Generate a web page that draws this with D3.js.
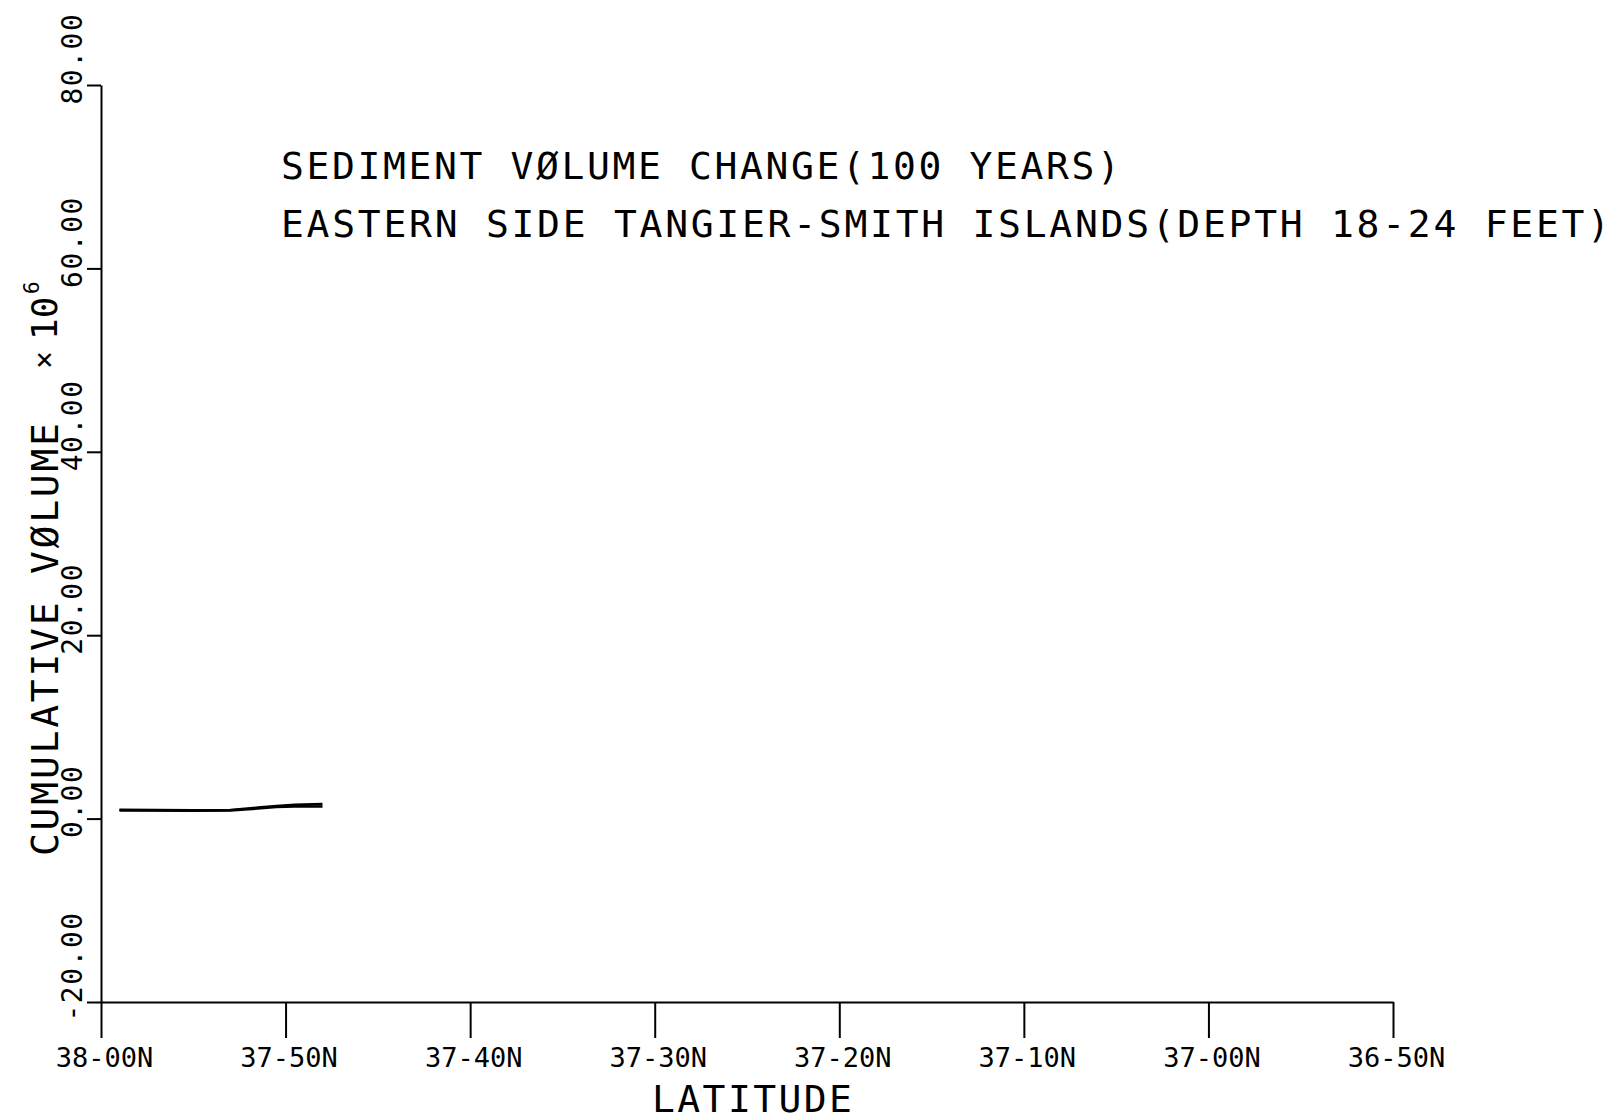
<!DOCTYPE html>
<html>
<head>
<meta charset="utf-8">
<script src="https://cdn.jsdelivr.net/npm/d3@7"></script>
<style>
  html, body { margin: 0; padding: 0; background: #fff; }
  svg { display: block; }
  text { font-family: "DejaVu Sans Mono", "Liberation Mono", monospace; fill: #000; }
</style>
</head>
<body>
<svg id="chart" width="1618" height="1120"></svg>
<script>
// Latitude stations (DD-MM.M, north) and cumulative volume (x10^6) for the two traces
const latitude = ["37-59.0", "37-57.0", "37-55.0", "37-53.0", "37-51.5", "37-50.5", "37-49.5", "37-48.0"];
const volumeUpper = [0.96, 0.92, 0.90, 0.94, 1.20, 1.38, 1.50, 1.58];
const volumeLower = [0.90, 0.88, 0.85, 0.88, 1.10, 1.26, 1.32, 1.32];

const xTickLabels = ["38-00N", "37-50N", "37-40N", "37-30N", "37-20N", "37-10N", "37-00N", "36-50N"];
const yTickLabels = ["-20.00", "0.00", "20.00", "40.00", "60.00", "80.00"];

const titleLines = [
  "SEDIMENT VØLUME CHANGE(100 YEARS)",
  "EASTERN SIDE TANGIER-SMITH ISLANDS(DEPTH 18-24 FEET)"
];

// "37-50N" / "37-59.0" -> decimal degrees
const parseLat = s => {
  const m = s.replace("N", "").split("-");
  return +m[0] + (+m[1]) / 60;
};

const svg = d3.select("#chart");

const x = d3.scaleLinear()
  .domain([parseLat(xTickLabels[0]), parseLat(xTickLabels[xTickLabels.length - 1])])
  .range([101, 1393]);

const y = d3.scaleLinear()
  .domain([+yTickLabels[0], +yTickLabels[yTickLabels.length - 1]])
  .range([1002, 85]);

// x axis with long downward ticks
const xAxis = svg.append("g")
  .attr("transform", `translate(0,${y.range()[0]})`)
  .call(d3.axisBottom(x)
    .tickValues(xTickLabels.map(parseLat))
    .tickFormat((d, i) => xTickLabels[i])
    .tickSize(36)
    .tickSizeOuter(0));
xAxis.select(".domain").attr("stroke", "#000").attr("stroke-width", 2);
xAxis.selectAll(".tick line").attr("stroke", "#000").attr("stroke-width", 2);
xAxis.selectAll(".tick text")
  .attr("y", 65).attr("dy", null).attr("x", 3)
  .style("font-size", "27px");

// y axis, ticks to the left, labels rotated
const yAxis = svg.append("g")
  .attr("transform", `translate(${x.range()[0]},0)`)
  .call(d3.axisLeft(y)
    .tickValues(yTickLabels.map(Number))
    .tickFormat((d, i) => yTickLabels[i])
    .tickSize(14)
    .tickSizeOuter(0));
yAxis.select(".domain").attr("stroke", "#000").attr("stroke-width", 2);
yAxis.selectAll(".tick line").attr("stroke", "#000").attr("stroke-width", 2);
yAxis.selectAll(".tick text")
  .attr("x", null).attr("dy", null)
  .attr("text-anchor", "start")
  .attr("transform", "translate(-19,19) rotate(-90)")
  .style("font-size", "28px")
  .style("letter-spacing", "1.5px");

// data traces
const line = d3.line()
  .x((d, i) => x(parseLat(latitude[i])))
  .y(d => y(d));

[volumeUpper, volumeLower].forEach(series => {
  svg.append("path")
    .datum(series)
    .attr("fill", "none")
    .attr("stroke", "#000")
    .attr("stroke-width", 2.6)
    .attr("d", line);
});

// title
const titleBase = [179, 237];
const titleWidth = [839, 1329];
titleLines.forEach((t, i) => {
  svg.append("text")
    .attr("x", 281).attr("y", titleBase[i])
    .attr("textLength", titleWidth[i])
    .attr("lengthAdjust", "spacing")
    .style("font-size", "38px")
    .text(t);
});

// axis titles
svg.append("text")
  .attr("x", 652).attr("y", 1112)
  .attr("textLength", 200).attr("lengthAdjust", "spacing")
  .style("font-size", "38px")
  .text("LATITUDE");

svg.append("text")
  .attr("transform", "translate(58,856) rotate(-90)")
  .attr("textLength", 433).attr("lengthAdjust", "spacing")
  .style("font-size", "38px")
  .text("CUMULATIVE VØLUME");

svg.append("text")
  .attr("transform", "translate(54,360) rotate(-90)")
  .attr("text-anchor", "middle")
  .style("font-size", "30px")
  .text("×");

svg.append("text")
  .attr("transform", "translate(57,340) rotate(-90)")
  .style("font-size", "36px")
  .text("10");

svg.append("text")
  .attr("transform", "translate(39,294) rotate(-90)")
  .style("font-size", "21px")
  .text("6");
</script>
</body>
</html>
